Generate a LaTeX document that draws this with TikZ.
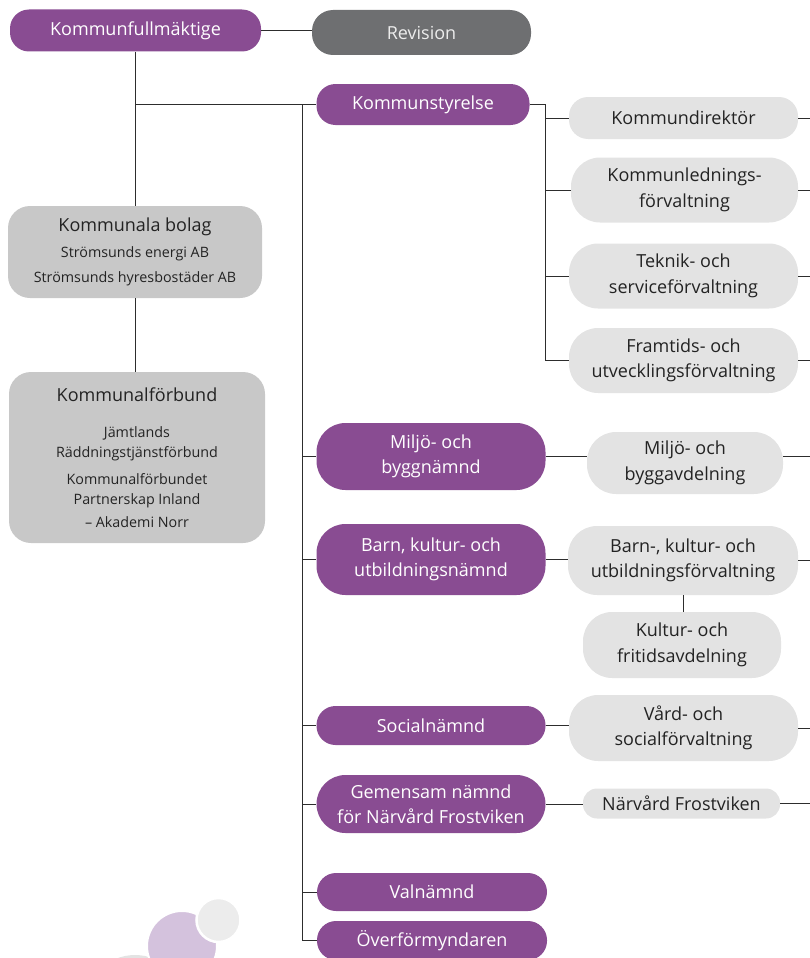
\documentclass[tikz,border=0pt]{standalone}
\usepackage{fontspec}
\setmainfont{Open Sans}
\usepackage{tikz}
\definecolor{orgpurple}{RGB}{137,76,146}
\definecolor{orgdark}{RGB}{110,111,113}
\definecolor{orgmid}{RGB}{200,200,200}
\definecolor{orglight}{RGB}{227,227,227}
\definecolor{orgline}{RGB}{45,45,45}
\definecolor{orgtext}{RGB}{35,35,35}
\definecolor{orglilac}{RGB}{212,194,221}
\definecolor{orgpale}{RGB}{236,236,236}

\begin{document}
\begin{tikzpicture}[x=1pt,y=-1pt,
  pill/.style={align=center,inner sep=0pt,rounded corners=19pt,font=\fontsize{18}{25.5}\selectfont},
  nmd/.style={pill,fill=orgpurple,text=white},
  forv/.style={pill,fill=orglight,text=orgtext},
  twoline/.style={rounded corners=29pt},
  link/.style={draw=orgline,line width=1pt}]
\useasboundingbox (0,0) rectangle (810,958);

\fill[orglight] (135,1005) circle (50);
\draw[fill=orglilac,draw=white,line width=2pt] (182,946) circle (35);
\draw[fill=orgpale,draw=white,line width=2.5pt] (218.5,920) circle (22);

\node[nmd,minimum width=251,minimum height=42] (kf) at (135.5,30.5) {Kommunfullmäktige};
\node[pill,fill=orgdark,text=orgpale,minimum width=219,minimum height=45,rounded corners=21pt] (rev) at (421.5,32.5) {Revision};
\node[nmd,minimum width=213,minimum height=41] (ks) at (423,104.5) {Kommunstyrelse};

\node[pill,fill=orgmid,text=orgtext,minimum width=254,minimum height=92,rounded corners=22pt,font=\fontsize{14.3}{20}\selectfont] (kb) at (135,252)
  {{\fontsize{18}{20}\selectfont Kommunala bolag}\\[6pt]Strömsunds energi AB\\[5pt]Strömsunds hyresbostäder AB};
\node[pill,fill=orgmid,text=orgtext,minimum width=256,minimum height=171,rounded corners=22pt,font=\fontsize{14.3}{20}\selectfont] (kfb) at (137,457.5)
  {{\fontsize{18}{20}\selectfont Kommunalförbund}\\[16pt]Jämtlands\\Räddningstjänstförbund\\[7pt]Kommunalförbundet\\Partnerskap Inland\\[3pt]– Akademi Norr};

\node[forv,minimum width=229,minimum height=42] (kd) at (683.5,118) {Kommundirektör};
\node[forv,twoline,minimum width=227,minimum height=65] (kl) at (684.5,190) {Kommunlednings-\\förvaltning};
\node[forv,twoline,minimum width=229,minimum height=65] (ts) at (683.5,276) {Teknik- och\\serviceförvaltning};
\node[forv,twoline,minimum width=229,minimum height=65] (fu) at (683.5,360.5) {Framtids- och\\utvecklingsförvaltning};

\node[nmd,twoline,minimum width=229,minimum height=67] (mb) at (431,456.5) {Miljö- och\\byggnämnd};
\node[forv,twoline,minimum width=196,minimum height=62] (ma) at (685,463) {Miljö- och\\byggavdelning};
\node[nmd,twoline,minimum width=229,minimum height=71] (bn) at (431,559.5) {Barn, kultur- och\\utbildningsnämnd};
\node[forv,twoline,minimum width=230,minimum height=69] (bf) at (683,560.5) {Barn-, kultur- och\\utbildningsförvaltning};
\node[forv,twoline,minimum width=198,minimum height=66] (kfa) at (682,645) {Kultur- och\\fritidsavdelning};
\node[nmd,minimum width=229,minimum height=39] (sn) at (431,725.5) {Socialnämnd};
\node[forv,twoline,minimum width=229,minimum height=66] (vs) at (683.5,728) {Vård- och\\socialförvaltning};
\node[nmd,twoline,minimum width=229,minimum height=58] (gn) at (431,804) {Gemensam nämnd\\för Närvård Frostviken};
\node[forv,minimum width=197,minimum height=30,rounded corners=14pt] (nf) at (681.5,803.5) {Närvård Frostviken};
\node[nmd,minimum width=230,minimum height=38] (vn) at (432,892) {Valnämnd};
\node[nmd,minimum width=230,minimum height=39] (ov) at (432,940.5) {Överförmyndaren};

\coordinate (trunk) at (302,104.5);
\coordinate (ksbus) at (545,104.5);
\coordinate (edge) at (810,0);

\draw[link] (kf.east) -- (kf.east -| rev.west);
\draw[link] (kf.south) -- (kf.south |- kb.north);
\draw[link] (kb.south) -- (kb.south |- kfb.north);
\draw[link] (kf.south |- ks.west) -- (ks.west);
\draw[link] (trunk) -- (trunk |- ov.west);
\foreach \n in {mb,bn,sn,gn,vn,ov}
  \draw[link] (trunk |- \n.west) -- (\n.west);

\draw[link] (ks.east) -- (ksbus) -- (ksbus |- fu.west) -- (fu.west);
\foreach \n in {kd,kl,ts}
  \draw[link] (ksbus |- \n.west) -- (\n.west);
\foreach \n in {kd,kl,ts,fu,bf,vs}
  \draw[link] (\n.east) -- (\n.east -| edge);

\draw[link] (mb.east) -- (mb.east -| ma.west);
\draw[link] (ma.east |- mb.east) -- (edge |- mb.east);
\draw[link] (bn.east) -- (bn.east -| bf.west);
\draw[link] (bf.south) -- (bf.south |- kfa.north);
\draw[link] (sn.east) -- (sn.east -| vs.west);
\draw[link] (gn.east) -- (gn.east -| nf.west);
\draw[link] (nf.east) -- (nf.east -| edge);
\end{tikzpicture}
\end{document}
